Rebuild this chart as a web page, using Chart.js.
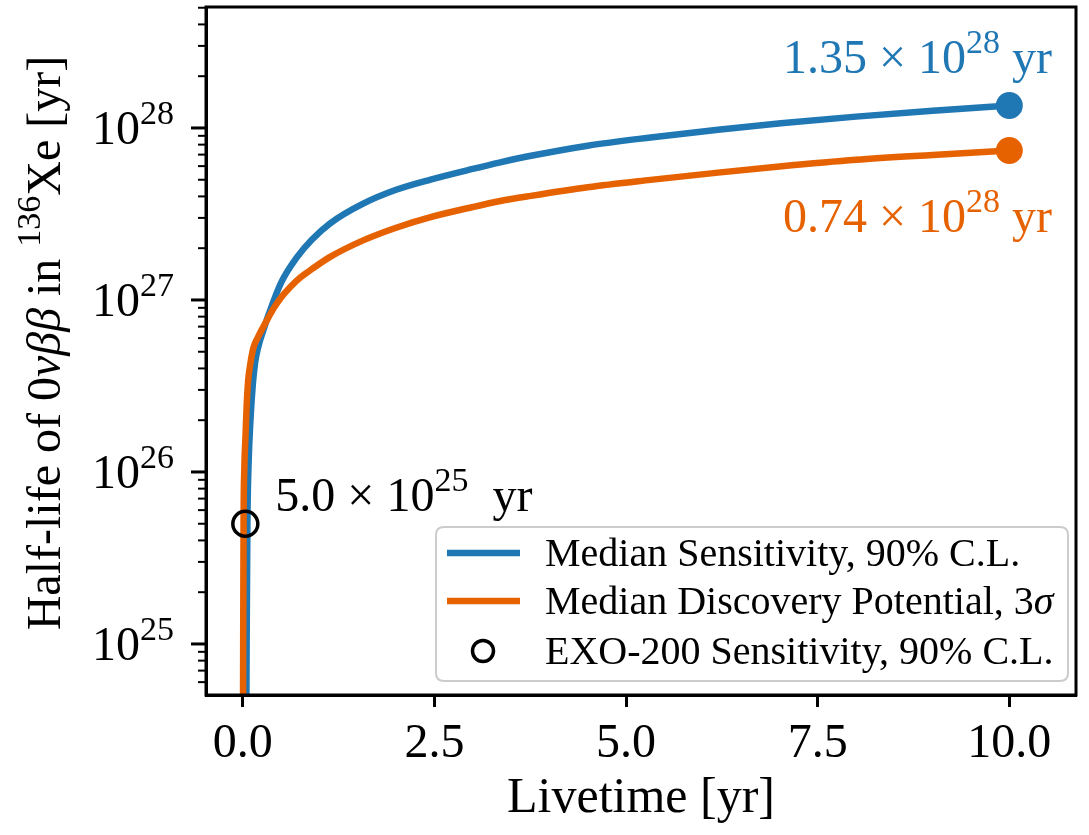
<!DOCTYPE html>
<html><head><meta charset="utf-8">
<script src="https://cdn.jsdelivr.net/npm/chart.js@4/dist/chart.umd.min.js"></script>
<style>html,body{margin:0;padding:0;background:#fff;}#wrap{width:1089px;height:835px;}</style>
</head><body><div id="wrap"><canvas id="c" width="1089" height="835"></canvas></div>
<script>
// ---- data ----
const sensX = [0.04, 0.05, 0.06, 0.075, 0.1, 0.13, 0.16, 0.2, 0.27, 0.34, 0.5, 0.71, 0.9, 1.14, 1.57, 2.0, 2.45, 3.0, 3.36, 3.76, 4.5, 5.32, 6.2, 7.02, 8.0, 9.0, 10.0];
const sensY = [1e24, 1e25, 5e25, 1.1e26, 2.0e26, 3.2e26, 4.3e26, 5.3e26, 6.7e26, 8.3e26, 1.26e27, 1.78e27, 2.24e27, 2.79e27, 3.63e27, 4.37e27, 5.01e27, 5.78e27, 6.31e27, 6.89e27, 7.89e27, 8.81e27, 9.77e27, 1.064e28, 1.164e28, 1.26e28, 1.35e28];
const discX = [0.0, 0.005, 0.01, 0.02, 0.035, 0.05, 0.07, 0.1, 0.14, 0.2, 0.3, 0.4, 0.5, 0.62, 0.75, 0.9, 1.14, 1.57, 2.0, 2.45, 3.0, 3.36, 3.76, 4.5, 5.32, 6.2, 7.0, 8.0, 9.0, 10.0];
const discY = [1e24, 1e25, 5e25, 1.05e26, 1.6e26, 2.4e26, 3.4e26, 4.3e26, 5.3e26, 6.1e26, 7.41e26, 8.91e26, 1.035e27, 1.19e27, 1.35e27, 1.51e27, 1.78e27, 2.22e27, 2.63e27, 3.03e27, 3.47e27, 3.76e27, 4.03e27, 4.52e27, 4.99e27, 5.5e27, 5.97e27, 6.53e27, 6.97e27, 7.4e27];
const exoX = [0.033];
const exoY = [5.0e25];
const xTickValues = [0, 2.5, 5.0, 7.5, 10.0];
const yMajorExponents = [25, 26, 27, 28];
const seriesNames = ['Median Sensitivity, 90% C.L.', 'Median Discovery Potential, 3σ', 'EXO-200 Sensitivity, 90% C.L.'];
const xLimits = [-0.48, 10.87];
const yLimits = [5.05e24, 5.05e28];

const BLUE = '#1f77b4', ORANGE = '#e66100';
const FF = '"Liberation Serif", "DejaVu Serif", serif';
const FS = 48, SUP = 34;

function segW(ctx, segs){let w=0;for(const s of segs){ctx.font=s.f;w+=ctx.measureText(s.t).width;}return w;}
function drawRich(ctx, segs, x, y, align, color){
  const w=segW(ctx,segs);
  let cx = align==='right'? x-w : align==='center'? x-w/2 : x;
  ctx.textAlign='left'; ctx.textBaseline='alphabetic';
  for(const s of segs){ctx.font=s.f;ctx.fillStyle=s.c||color;ctx.fillText(s.t,cx,y+(s.dy||0));cx+=ctx.measureText(s.t).width;}
}
const R = `${FS}px ${FF}`, RS = `${SUP}px ${FF}`, RI = `italic ${FS}px ${FF}`;
function pow10(base, exp, tail){
  const s=[{t:base,f:R},{t:'10',f:R},{t:String(exp),f:RS,dy:-20}];
  if(tail) s.push({t:tail,f:R});
  return s;
}

const customDraw = {
  id:'customDraw',
  afterDatasetsDraw(chart){
    const ctx=chart.ctx, a=chart.chartArea, ys=chart.scales.y, xs=chart.scales.x;
    ctx.save();
    // y ticks (major + minor)
    ctx.strokeStyle='#000';
    for(let e=24;e<=28;e++){
      for(let m=1;m<=9;m++){
        const v=m*Math.pow(10,e);
        if(v<yLimits[0]||v>yLimits[1]) continue;
        const py=ys.getPixelForValue(v);
        const major=(m===1);
        ctx.lineWidth=major?3:2;
        ctx.beginPath();ctx.moveTo(a.left,py);ctx.lineTo(a.left-(major?15:8),py);ctx.stroke();
      }
    }
    // y tick labels
    for(const e of yMajorExponents){
      const py=ys.getPixelForValue(Math.pow(10,e));
      drawRich(ctx,[{t:'10',f:R},{t:String(e),f:RS,dy:-20}],174,py+16,'right','#000');
    }
    // spines
    ctx.lineWidth=3;ctx.strokeStyle='#000';
    ctx.strokeRect(a.left,a.top,a.right-a.left,a.bottom-a.top);
    // y title (rotated)
    ctx.save();
    ctx.translate(60,343);
    ctx.rotate(-Math.PI/2);
    drawRich(ctx,[
      {t:'Half-life of 0',f:R},{t:'νββ',f:RI},{t:' in ',f:R},{t:'136',f:RS,dy:-20},{t:'Xe [yr]',f:R}
    ],0,0,'center','#000');
    ctx.restore();
    // annotations
    const by=ys.getPixelForValue(1.35e28), oy=ys.getPixelForValue(0.74e28);
    drawRich(ctx,pow10('1.35 × ',28,' yr'),1052,by-33,'right',BLUE);
    drawRich(ctx,pow10('0.74 × ',28,' yr'),1052,oy+82,'right',ORANGE);
    const ex=xs.getPixelForValue(exoX[0]), ey=ys.getPixelForValue(exoY[0]);
    drawRich(ctx,pow10('5.0 × ',25,'  yr'),ex+30,ey-13,'left','#000');
    // legend
    const L=436,T=527,Rr=1068,B=681,rad=8;
    ctx.beginPath();
    ctx.moveTo(L+rad,T);ctx.lineTo(Rr-rad,T);ctx.quadraticCurveTo(Rr,T,Rr,T+rad);
    ctx.lineTo(Rr,B-rad);ctx.quadraticCurveTo(Rr,B,Rr-rad,B);
    ctx.lineTo(L+rad,B);ctx.quadraticCurveTo(L,B,L,B-rad);
    ctx.lineTo(L,T+rad);ctx.quadraticCurveTo(L,T,L+rad,T);ctx.closePath();
    ctx.fillStyle='rgba(255,255,255,0.8)';ctx.fill();
    ctx.lineWidth=2;ctx.strokeStyle='#cccccc';ctx.stroke();
    const rows=[553,601,651];
    const LF=`40px ${FF}`, LFI=`italic 40px ${FF}`;
    ctx.lineCap='butt';
    ctx.lineWidth=6.5;ctx.strokeStyle=BLUE;ctx.beginPath();ctx.moveTo(447,rows[0]);ctx.lineTo(520,rows[0]);ctx.stroke();
    ctx.strokeStyle=ORANGE;ctx.beginPath();ctx.moveTo(447,rows[1]);ctx.lineTo(520,rows[1]);ctx.stroke();
    ctx.lineWidth=3.5;ctx.strokeStyle='#000';ctx.beginPath();ctx.arc(483,rows[2],10.5,0,Math.PI*2);ctx.stroke();
    drawRich(ctx,[{t:seriesNames[0],f:LF}],545,rows[0]+13,'left','#000');
    drawRich(ctx,[{t:'Median Discovery Potential, 3',f:LF},{t:'σ',f:LFI}],545,rows[1]+13,'left','#000');
    drawRich(ctx,[{t:seriesNames[2],f:LF}],545,rows[2]+13,'left','#000');
    ctx.restore();
  }
};

const toPts=(xs,ys)=>xs.map((x,i)=>({x,y:ys[i]}));
const lastIdx=(n)=>(c)=>c.dataIndex===n-1?13.5:0;

new Chart(document.getElementById('c'),{
  type:'line',
  data:{datasets:[
    {label:seriesNames[2],type:'scatter',data:toPts(exoX,exoY),pointRadius:12.5,pointBorderWidth:3.5,pointBorderColor:'#000',pointBackgroundColor:'rgba(0,0,0,0)',showLine:false,order:0},
    {label:seriesNames[1],data:toPts(discX,discY),borderColor:ORANGE,backgroundColor:ORANGE,borderWidth:6.5,pointRadius:lastIdx(discX.length),pointHoverRadius:0,pointBorderWidth:0,pointBackgroundColor:ORANGE,cubicInterpolationMode:'monotone',fill:false,order:1,clip:0},
    {label:seriesNames[0],data:toPts(sensX,sensY),borderColor:BLUE,backgroundColor:BLUE,borderWidth:6.5,pointRadius:lastIdx(sensX.length),pointHoverRadius:0,pointBorderWidth:0,pointBackgroundColor:BLUE,cubicInterpolationMode:'monotone',fill:false,order:2,clip:0}
  ]},
  options:{
    responsive:false,devicePixelRatio:1,animation:false,
    layout:{autoPadding:false,padding:{left:0,right:13,top:7,bottom:0}},
    plugins:{legend:{display:false},tooltip:{enabled:false}},
    scales:{
      x:{type:'linear',min:xLimits[0],max:xLimits[1],
        afterBuildTicks:(s)=>{s.ticks=xTickValues.map(v=>({value:v}));},
        afterFit:(s)=>{s.height=140;},
        ticks:{callback:(v)=>Number(v).toFixed(1),font:{family:FF,size:FS},color:'#000',padding:9,maxRotation:0,autoSkip:false},
        grid:{display:true,drawOnChartArea:false,drawTicks:true,tickLength:12,tickWidth:3,tickColor:'#000'},
        border:{display:true,width:3,color:'#000'},
        title:{display:true,text:'Livetime [yr]',font:{family:FF,size:50,lineHeight:1.2},color:'#000',padding:{top:0,bottom:6}}
      },
      y:{type:'logarithmic',min:yLimits[0],max:yLimits[1],
        afterFit:(s)=>{s.width=206;},
        ticks:{display:false},
        grid:{display:false},
        border:{display:true,width:3,color:'#000'}
      }
    }
  },
  plugins:[customDraw]
});
</script></body></html>
